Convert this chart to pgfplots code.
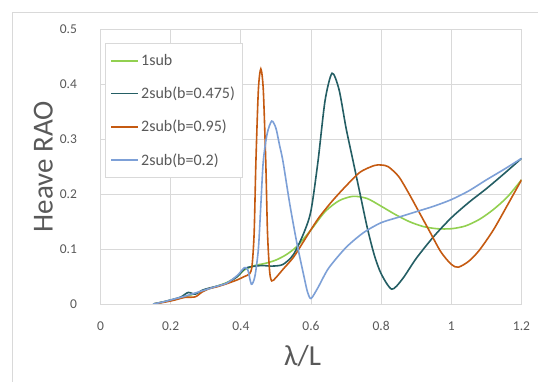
\documentclass[border=0pt]{standalone}
\usepackage{pgfplots}
\pgfplotsset{compat=1.18}
\usepackage{fontspec}
\setmainfont{Carlito}
\definecolor{cgreen}{RGB}{146,208,80}
\definecolor{cteal}{RGB}{36,94,100}
\definecolor{corange}{RGB}{197,90,17}
\definecolor{cblue}{RGB}{125,160,215}
\definecolor{gridc}{RGB}{217,217,217}
\definecolor{txt}{RGB}{89,89,89}
\begin{document}
\begin{tikzpicture}
\useasboundingbox (0,0) rectangle (538pt,382pt);
\fill[white] (0,0) rectangle (538pt,382pt);
\draw[gridc, line width=0.8pt] (12pt,-5pt) -- (12pt,370pt) -- (545pt,370pt);
\begin{axis}[
  at={(100.5pt,78pt)}, anchor=south west,
  scale only axis, width=421pt, height=274.7pt,
  xmin=0, xmax=1.2, ymin=0, ymax=0.5,
  xtick={0,0.2,...,1.2}, ytick={0,0.1,...,0.5},
  xticklabels={0,0.2,0.4,0.6,0.8,1,1.2},
  yticklabels={0,0.1,0.2,0.3,0.4,0.5},
  grid=major, major grid style={gridc, line width=0.7pt},
  axis line style={gridc, line width=0.7pt},
  tick style={draw=none},
  tick label style={font=\fontsize{13.5}{15}\selectfont, text=txt},
  xticklabel style={yshift=-14pt},
  yticklabel style={xshift=-20pt},
  /pgf/number format/assume math mode=true,
  ylabel={Heave RAO}, xlabel={λ/L},
  label style={font=\fontsize{29}{34}\selectfont, text=txt},
  y label style={at={(axis description cs:-0.136,0.5)}, anchor=center, rotate=0},
  x label style={at={(axis description cs:0.48,-0.19)}, anchor=center},
  legend style={at={(axis description cs:0.0107,0.950)}, anchor=north west,
    draw=gridc, line width=0.7pt, font=\fontsize{16}{19}\selectfont, text=txt,
    row sep=16pt, inner xsep=5pt, inner ysep=9pt},
  legend cell align=left,
  legend image code/.code={\draw[#1, sharp plot, line width=1.8pt] (0pt,0pt) -- (27pt,0pt);},
  every axis plot/.append style={line width=1.6pt, smooth, tension=0.45},
]
\addplot[cgreen] coordinates {
(0.15,0.0)(0.18,0.004)(0.21,0.008)(0.24,0.013)(0.27,0.019)(0.30,0.026)(0.33,0.032)(0.36,0.039)(0.39,0.05)(0.41,0.062)(0.44,0.07)(0.47,0.074)(0.50,0.080)(0.53,0.09)(0.56,0.105)(0.60,0.135)(0.64,0.168)(0.68,0.188)(0.72,0.196)(0.76,0.192)(0.80,0.178)(0.84,0.163)(0.88,0.150)(0.92,0.141)(0.96,0.137)(1.00,0.137)(1.04,0.142)(1.08,0.154)(1.12,0.172)(1.16,0.195)(1.20,0.226)
};
\addlegendentry{1sub}
\addplot[cteal] coordinates {
(0.15,0.0)(0.18,0.004)(0.21,0.009)(0.23,0.013)(0.25,0.021)(0.27,0.018)(0.29,0.025)(0.31,0.029)(0.33,0.032)(0.36,0.038)(0.39,0.05)(0.41,0.064)(0.43,0.068)(0.46,0.070)(0.49,0.069)(0.52,0.072)(0.55,0.09)(0.58,0.13)(0.60,0.17)(0.62,0.26)(0.64,0.37)(0.66,0.42)(0.68,0.39)(0.70,0.32)(0.72,0.26)(0.74,0.20)(0.76,0.14)(0.78,0.09)(0.80,0.055)(0.83,0.027)(0.86,0.045)(0.90,0.083)(0.95,0.123)(1.00,0.157)(1.05,0.185)(1.10,0.21)(1.15,0.237)(1.20,0.265)
};
\addlegendentry{2sub(b=0.475)}
\addplot[corange] coordinates {
(0.15,0.0)(0.18,0.003)(0.21,0.007)(0.24,0.012)(0.27,0.013)(0.29,0.022)(0.31,0.028)(0.33,0.031)(0.36,0.037)(0.39,0.044)(0.41,0.05)(0.425,0.055)(0.432,0.07)(0.438,0.13)(0.443,0.26)(0.45,0.39)(0.457,0.428)(0.464,0.39)(0.471,0.26)(0.476,0.13)(0.482,0.06)(0.488,0.042)(0.50,0.048)(0.52,0.063)(0.55,0.085)(0.58,0.115)(0.62,0.155)(0.66,0.187)(0.70,0.215)(0.74,0.24)(0.78,0.252)(0.80,0.253)(0.82,0.25)(0.85,0.232)(0.88,0.20)(0.91,0.165)(0.94,0.13)(0.97,0.095)(1.00,0.072)(1.02,0.067)(1.05,0.078)(1.08,0.098)(1.12,0.135)(1.16,0.18)(1.20,0.226)
};
\addlegendentry{2sub(b=0.95)}
\addplot[cblue] coordinates {
(0.15,0.0)(0.18,0.004)(0.21,0.009)(0.24,0.014)(0.27,0.02)(0.30,0.026)(0.33,0.032)(0.36,0.038)(0.39,0.052)(0.41,0.066)(0.42,0.062)(0.43,0.036)(0.44,0.05)(0.45,0.10)(0.457,0.18)(0.464,0.26)(0.475,0.31)(0.488,0.333)(0.50,0.32)(0.51,0.29)(0.52,0.26)(0.54,0.18)(0.56,0.11)(0.58,0.05)(0.59,0.022)(0.60,0.01)(0.62,0.03)(0.65,0.065)(0.70,0.103)(0.75,0.13)(0.80,0.148)(0.85,0.158)(0.90,0.168)(0.95,0.178)(1.00,0.19)(1.05,0.206)(1.10,0.226)(1.15,0.245)(1.20,0.265)
};
\addlegendentry{2sub(b=0.2)}
\end{axis}
\end{tikzpicture}
\end{document}
